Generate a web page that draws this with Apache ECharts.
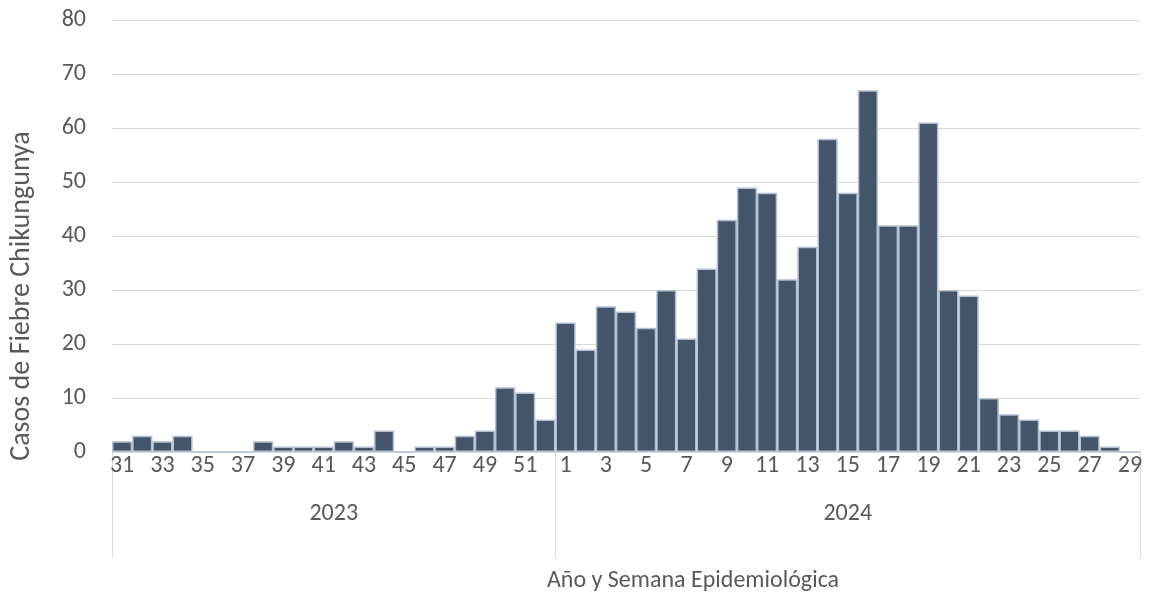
<!DOCTYPE html>
<html>
<head>
<meta charset="utf-8">
<script src="https://cdn.jsdelivr.net/npm/echarts@6/dist/echarts.min.js"></script>
<style>html,body{margin:0;padding:0;background:#fff}#c{width:1150px;height:603px}</style>
</head>
<body>
<div id="c"></div>
<script>
const weeks2023 = [31,32,33,34,35,36,37,38,39,40,41,42,43,44,45,46,47,48,49,50,51,52];
const weeks2024 = [1,2,3,4,5,6,7,8,9,10,11,12,13,14,15,16,17,18,19,20,21,22,23,24,25,26,27,28,29];
const cases2023 = [2,3,2,3,0,0,0,2,1,1,1,2,1,4,0,1,1,3,4,12,11,6];
const cases2024 = [24,19,27,26,23,30,21,34,43,49,48,32,38,58,48,67,42,42,61,30,29,10,7,6,4,4,3,1,0];
const years = ['2023','2024'];
const yTicks = [0,10,20,30,40,50,60,70,80];

const categories = weeks2023.map(String).concat(weeks2024.map(String));
const values = cases2023.concat(cases2024);
const n = categories.length;
const split = weeks2023.length;
const yearCenters = [split/2, split + weeks2024.length/2];

const FONT = 'Carlito, "Open Sans", sans-serif';
const TXT = '#595959';
const FS = 24;
const chart = echarts.init(document.getElementById('c'), null, {renderer:'canvas'});
chart.setOption({
  animation:false,
  backgroundColor:'#ffffff',
  grid:{left:112, right:10, top:20, bottom:151, containLabel:false, outerBoundsMode:'none'},
  title:{
    text:'Año y Semana Epidemiológica',
    left:688, top:564, textAlign:'center',
    textStyle:{fontFamily:FONT, fontSize:FS, fontWeight:'normal', color:TXT}
  },
  xAxis:[{
    type:'category', data:categories, position:'bottom',
    axisLine:{show:true, lineStyle:{color:'#d9d9d9', width:1}},
    axisTick:{show:false},
    axisLabel:{interval:1, margin:2, fontFamily:FONT, fontSize:FS, color:TXT, verticalAlign:'top', hideOverlap:false},
    splitLine:{show:false}
  },{
    type:'value', min:0, max:n, position:'bottom', gridIndex:0,
    axisLine:{show:false},
    axisTick:{show:true, customValues:[0, split, n], length:106, inside:false, lineStyle:{color:'#d9d9d9', width:1}},
    axisLabel:{show:true, customValues:yearCenters, margin:50, fontFamily:FONT, fontSize:FS, color:TXT, verticalAlign:'top',
      formatter:function(v){ return v < split ? years[0] : years[1]; }},
    splitLine:{show:false}
  }],
  yAxis:{
    type:'value', min:yTicks[0], max:yTicks[yTicks.length-1], interval:10,
    name:'Casos de Fiebre Chikungunya', nameLocation:'middle', nameGap:76, nameRotate:90,
    nameTextStyle:{fontFamily:FONT, fontSize:28, color:TXT, padding:[0,120,0,0]},
    axisLine:{show:false}, axisTick:{show:false},
    axisLabel:{margin:26, fontFamily:FONT, fontSize:FS, color:TXT},
    splitLine:{show:true, lineStyle:{color:'#d9d9d9', width:1}}
  },
  series:[{
    type:'bar', data:values, xAxisIndex:0, yAxisIndex:0,
    barCategoryGap:'0%',
    itemStyle:{color:'#44546a', borderColor:'#b3bfd3', borderWidth:1.5}
  }]
});
</script>
</body>
</html>
